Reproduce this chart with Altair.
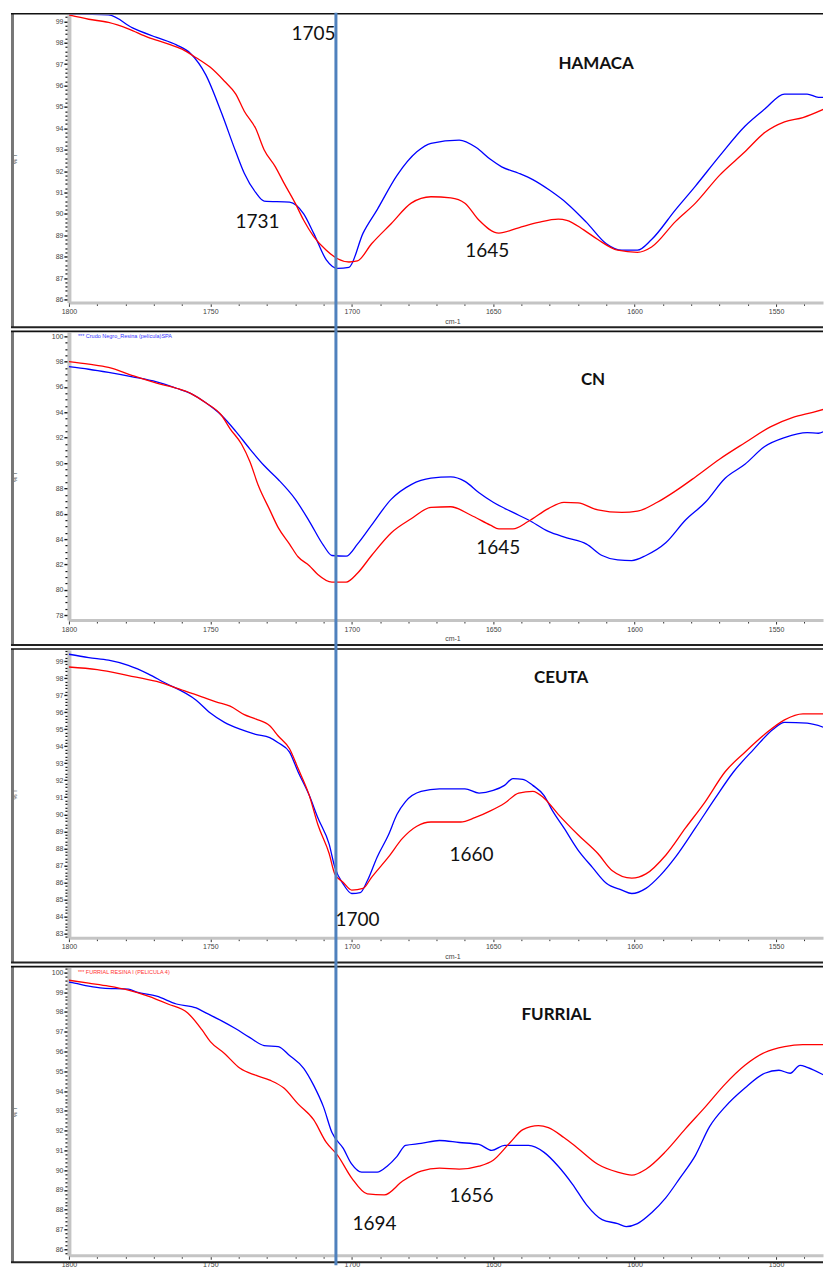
import altair as alt
import pandas as pd

# ---------------- data (wavenumber cm-1, %T) ----------------
# Panel 1 : HAMACA
p1_blue_wn = [1800, 1786, 1777.5, 1769, 1762, 1757, 1751.6, 1746, 1741, 1738, 1734, 1731, 1722, 1717,
              1713.5, 1709, 1705, 1701, 1696, 1691, 1684, 1677, 1672, 1662, 1656, 1651, 1647, 1641,
              1636, 1630, 1624, 1617, 1610, 1604.5, 1599, 1594, 1585.5, 1578.5, 1570, 1561, 1554,
              1547, 1539, 1535, 1533]
p1_blue_t = [99.35, 99.3, 98.7, 98.25, 97.9, 97.5, 96.5, 94.7, 92.9, 91.9, 91.0, 90.6, 90.55, 90.0,
             89.1, 87.85, 87.45, 87.5, 89.1, 90.2, 91.8, 92.9, 93.3, 93.45, 93.1, 92.55, 92.2, 91.9,
             91.6, 91.1, 90.5, 89.6, 88.6, 88.3, 88.3, 88.8, 90.2, 91.3, 92.7, 94.1, 94.9,
             95.6, 95.6, 95.45, 95.45]
p1_red_wn = [1800, 1793, 1786, 1779, 1772, 1765, 1760, 1755, 1750, 1745, 1741, 1738, 1734, 1731,
             1727, 1724, 1720, 1717, 1713.5, 1709, 1705, 1701, 1698, 1693, 1686, 1679, 1672, 1665,
             1660, 1655, 1648, 1641, 1634, 1627, 1624, 1618, 1613, 1606, 1599, 1594, 1585.5, 1578.5,
             1570, 1561, 1554, 1547, 1540.5, 1533]
p1_red_t = [99.3, 99.1, 98.95, 98.65, 98.25, 97.95, 97.7, 97.3, 96.85, 96.2, 95.6, 94.8, 94.0, 93.0,
            92.2, 91.45, 90.5, 89.7, 88.95, 88.3, 87.9, 87.75, 87.8, 88.6, 89.55, 90.5, 90.8, 90.75,
            90.5, 89.7, 89.1, 89.35, 89.6, 89.75, 89.7, 89.25, 88.8, 88.3, 88.2, 88.45, 89.65, 90.5,
            91.8, 92.9, 93.8, 94.3, 94.5, 94.9]

# Panel 2 : CN
p2_blue_wn = [1800, 1793, 1786, 1777.5, 1769, 1762, 1757, 1751.6, 1746, 1741, 1736, 1731, 1726, 1720,
              1715, 1710, 1707, 1702, 1698, 1693, 1686, 1679, 1672, 1665, 1660, 1655, 1650, 1643,
              1637.5, 1630.5, 1624, 1617, 1611.5, 1606, 1601, 1596, 1589, 1582, 1575, 1568, 1561,
              1554, 1547, 1539, 1535, 1533]
p2_blue_t = [97.6, 97.4, 97.15, 96.8, 96.4, 95.9, 95.5, 94.75, 93.75, 92.5, 91.1, 89.8, 88.7, 87.15,
             85.4, 83.5, 82.7, 82.65, 83.6, 85.1, 87.15, 88.3, 88.8, 88.9, 88.55, 87.65, 86.9, 86.1,
             85.5, 84.6, 84.1, 83.6, 82.7, 82.35, 82.3, 82.7, 83.7, 85.5, 86.9, 88.8, 89.9,
             91.3, 92.0, 92.4, 92.35, 92.5]
p2_red_wn = [1800, 1793, 1786, 1777.5, 1769, 1762, 1757, 1751.6, 1746, 1743, 1739, 1736, 1733, 1729,
             1726, 1722, 1719, 1715, 1712, 1707, 1702, 1698, 1693, 1686, 1679, 1672, 1665, 1658,
             1651, 1648, 1643, 1637.5, 1630.5, 1625, 1620, 1613, 1604.5, 1599, 1592, 1585.5, 1578.5,
             1570, 1561, 1552, 1544, 1537, 1533]
p2_red_t = [98.0, 97.8, 97.55, 96.9, 96.3, 95.9, 95.5, 94.75, 93.75, 92.7, 91.5, 90.1, 88.2, 86.3,
            84.9, 83.6, 82.6, 81.9, 81.2, 80.6, 80.6, 81.3, 82.7, 84.5, 85.6, 86.5, 86.55, 85.9,
            85.1, 84.8, 84.8, 85.4, 86.4, 86.9, 86.85, 86.3, 86.1, 86.2, 86.9, 87.8, 88.9,
            90.3, 91.6, 92.85, 93.6, 94.0, 94.25]

# Panel 3 : CEUTA
p3_blue_wn = [1800, 1793, 1786, 1779, 1772, 1767, 1755, 1750, 1745, 1739.5, 1734, 1729, 1726, 1722,
              1719, 1715, 1712, 1708, 1706, 1703, 1700, 1697, 1694.5, 1691, 1687, 1684, 1681,
              1675.5, 1669, 1660, 1655, 1650, 1646, 1643, 1639.5, 1636, 1632, 1629, 1625, 1620,
              1615, 1610, 1604.5, 1601, 1596, 1591, 1585.5, 1578.5, 1571.5, 1565, 1558, 1551,
              1547, 1539, 1533]
p3_blue_t = [99.4, 99.2, 99.05, 98.75, 98.25, 97.8, 96.7, 95.95, 95.4, 95.0, 94.7, 94.5, 94.2, 93.65,
             92.5, 91.1, 89.8, 88.25, 86.9, 85.9, 85.35, 85.4, 86.1, 87.5, 88.8, 90.0, 90.75,
             91.35, 91.5, 91.5, 91.25, 91.4, 91.7, 92.1, 92.05, 91.7, 91.1, 90.2, 89.2, 87.9,
             86.9, 85.95, 85.55, 85.35, 85.65, 86.4, 87.5, 89.2, 90.95, 92.5, 93.8, 95.0,
             95.4, 95.35, 95.1]
p3_red_wn = [1800, 1790, 1779, 1769, 1760, 1753, 1748, 1743, 1738, 1734, 1729, 1726, 1722, 1719,
             1715, 1712, 1708, 1706, 1703, 1700, 1696, 1693, 1687, 1682, 1677, 1672, 1665, 1661.5,
             1656.5, 1651, 1646, 1641, 1636, 1632, 1627, 1620, 1613, 1608, 1601, 1596, 1589, 1582,
             1575, 1568, 1561, 1554, 1547, 1540.5, 1533]
p3_red_t = [98.65, 98.5, 98.15, 97.8, 97.3, 96.9, 96.6, 96.35, 95.85, 95.6, 95.2, 94.6, 93.85, 92.7,
            91.1, 89.4, 87.7, 86.5, 86.0, 85.55, 85.65, 86.3, 87.5, 88.6, 89.3, 89.55, 89.55, 89.55,
            89.8, 90.2, 90.65, 91.25, 91.35, 90.95, 90.0, 88.8, 87.7, 86.7, 86.25, 86.5, 87.6, 89.2,
            90.75, 92.5, 93.65, 94.7, 95.55, 95.9, 95.9]

# Panel 4 : FURRIAL
p4_blue_wn = [1800, 1798, 1793, 1788, 1779, 1776, 1769, 1762, 1755, 1751.6, 1746, 1741, 1736, 1731,
              1726, 1722, 1717, 1713.5, 1710, 1707, 1703, 1700, 1696.5, 1691, 1687.5, 1684, 1681,
              1675.5, 1669, 1662, 1655, 1650.5, 1646, 1637.5, 1632, 1627, 1622, 1617, 1611.5, 1606,
              1603, 1599, 1594, 1589, 1584, 1578.5, 1573.5, 1568, 1561, 1554, 1549, 1545, 1541.5,
              1539, 1533]
p4_blue_t = [99.5, 99.45, 99.3, 99.2, 99.15, 99.0, 98.8, 98.4, 98.2, 97.95, 97.55, 97.15, 96.7, 96.3,
             96.25, 95.8, 95.15, 94.3, 93.2, 91.9, 91.1, 90.3, 89.9, 89.9, 90.2, 90.7, 91.25,
             91.35, 91.5, 91.4, 91.3, 91.0, 91.25, 91.25, 90.9, 90.2, 89.3, 88.25, 87.5, 87.3,
             87.15, 87.3, 87.85, 88.6, 89.6, 90.75, 92.2, 93.2, 94.15, 94.9, 95.05, 94.9, 95.3,
             95.2, 94.8]
p4_red_wn = [1800, 1793, 1786, 1779, 1772, 1765, 1758, 1753, 1750, 1745, 1739.5, 1734, 1729, 1724,
             1719, 1713.5, 1709, 1705, 1700, 1694.5, 1688.5, 1682, 1675.5, 1669, 1662, 1655, 1650,
             1644, 1639.5, 1634, 1630.5, 1625, 1620, 1613, 1606, 1601, 1596, 1589, 1582, 1575,
             1568, 1561, 1554, 1547, 1540.5, 1533]
p4_red_t = [99.6, 99.45, 99.3, 99.1, 98.8, 98.4, 97.95, 97.1, 96.5, 95.9, 95.15, 94.8, 94.55, 94.15,
            93.35, 92.55, 91.4, 90.75, 89.6, 88.8, 88.75, 89.45, 89.95, 90.1, 90.05, 90.2, 90.5,
            91.4, 92.05, 92.25, 92.15, 91.65, 91.1, 90.3, 89.9, 89.75, 90.05, 90.95, 92.1, 93.2,
            94.35, 95.3, 95.95, 96.25, 96.35, 96.35]

# panel annotations: label, wavenumber, %T, bold?
p1_notes = [("1705", 1713.5, 98.4, False), ("HAMACA", 1613.6, 97.0, True),
            ("1731", 1733.3, 89.6, False), ("1645", 1652.1, 88.24, False)]
p2_notes = [("CN", 1614.7, 96.54, True), ("1645", 1648.2, 83.27, False)]
p3_notes = [("CEUTA", 1626.0, 98.02, True), ("1660", 1657.7, 87.6, False),
            ("1700", 1698.0, 83.8, False)]
p4_notes = [("FURRIAL", 1627.7, 97.86, True), ("1656", 1657.7, 88.67, False),
            ("1694", 1692.0, 87.26, False)]

# y-axis ranges, label step and minor tick step for each panel
p1_y = (85.86, 99.31, 1, 0.2)
p2_y = (77.61, 100.31, 2, 0.5)
p3_y = (82.76, 99.65, 1, 0.2)
p4_y = (85.7, 100.24, 1, 0.2)

p2_caption = "*** Crudo Negro_Resina (película)SPA"
p4_caption = "*** FURRIAL RESINA I (PELICULA 4)"

VLINE_WN = 1705.6
X_DOMAIN = [1533.4, 1800]
X_LABELS = [1800, 1750, 1700, 1650, 1600, 1550]
X_MINOR = [v for v in range(1540, 1801, 10) if v % 50 != 0]

W = 755
H = 288
FRAME_BOTTOM = 313
RULE_BOTTOM = 316


def ticks(lo, hi, step):
    out = []
    k = int(lo / step) - 1
    while k * step <= hi + 1e-9:
        v = round(k * step, 3)
        if lo - 1e-9 <= v <= hi + 1e-9:
            out.append(v)
        k += 1
    return out


def panel(blue_wn, blue_t, red_wn, red_t, notes, ycfg, caption=None, cap_color=None,
          last=False):
    lo, hi, major, minor = ycfg
    df = pd.concat([
        pd.DataFrame({"wn": blue_wn, "t": blue_t, "s": "b"}),
        pd.DataFrame({"wn": red_wn, "t": red_t, "s": "r"}),
    ])
    xs = alt.Scale(domain=X_DOMAIN, reverse=True, nice=False, zero=False)
    ys = alt.Scale(domain=[lo, hi], nice=False, zero=False)
    ymajor = [v for v in ticks(lo, hi, major)]
    yminor = [v for v in ticks(lo, hi, minor) if v not in ymajor]

    xaxis = alt.Axis(values=X_LABELS, format="d", orient="bottom", grid=False,
                     domainColor="#c4c4c4", domainWidth=3, tickColor="#333", tickSize=4,
                     tickWidth=1, labelFont="Liberation Sans", labelFontSize=7,
                     labelColor="#444", labelPadding=1, labelFlush=False,
                     title=None if last else "cm-1", titleFont="Liberation Sans",
                     titleFontSize=7, titleFontWeight="normal", titleColor="#444",
                     titleX=384, titlePadding=3)
    yaxis = alt.Axis(values=ymajor, format="d", orient="left", grid=False,
                     domainColor="#c4c4c4", domainWidth=4, tickColor="#111", tickSize=5,
                     tickWidth=1.4, labelFont="Liberation Sans", labelFontSize=7,
                     labelColor="#444", labelPadding=1, labelFlush=False, title="% T",
                     titleFont="Liberation Sans", titleFontSize=6, titleFontWeight="normal",
                     titleColor="#444", titleX=-51, titleY=H / 2, titleAngle=-90)
    xminor = alt.Axis(values=X_MINOR, orient="bottom", grid=False, domain=False, labels=False,
                      tickColor="#333", tickSize=3, tickWidth=1, title=None)
    yminor_ax = alt.Axis(values=yminor, orient="left", grid=False, domain=False, labels=False,
                         tickColor="#111", tickSize=4, tickWidth=1.2, title=None)

    color = alt.Color("s:N", scale=alt.Scale(domain=["b", "r"], range=["#0000ff", "#ff0000"]),
                      legend=None)
    lines = alt.Chart(df).mark_line(strokeWidth=1.3, clip=True, interpolate="monotone").encode(
        x=alt.X("wn:Q", scale=xs, axis=xaxis),
        y=alt.Y("t:Q", scale=ys, axis=yaxis),
        color=color,
        detail="s:N",
    )
    minor_layer = alt.Chart(df).mark_line(opacity=0, clip=True).encode(
        x=alt.X("wn:Q", scale=xs, axis=xminor),
        y=alt.Y("t:Q", scale=ys, axis=yminor_ax),
        detail="s:N",
    )

    one = pd.DataFrame({"a": [0]})
    fb = FRAME_BOTTOM - (18 if last else 0)
    rb = RULE_BOTTOM - (18 if last else 0)
    top = alt.Chart(one).mark_rule(color="#111", strokeWidth=1.6).encode(
        x=alt.value(-58), x2=alt.value(W), y=alt.value(-1))
    bottom = alt.Chart(one).mark_rule(color="#222", strokeWidth=2).encode(
        x=alt.value(-58), x2=alt.value(W), y=alt.value(fb))
    leftbar = alt.Chart(one).mark_rect(color="#777").encode(
        x=alt.value(-58), x2=alt.value(-55), y=alt.value(-1), y2=alt.value(fb))
    vline = alt.Chart(one).mark_rule(color="#4f81bd", strokeWidth=3).encode(
        x=alt.XDatum(VLINE_WN, axis=None), y=alt.value(-2), y2=alt.value(rb))

    ndf = pd.DataFrame(notes, columns=["label", "wn", "t", "bold"])
    nums = alt.Chart(ndf[~ndf["bold"]]).mark_text(font="Lato", fontSize=19, color="#111",
                                                   baseline="middle", align="center").encode(
        x=alt.X("wn:Q", axis=None), y=alt.Y("t:Q", axis=None), text="label:N")
    names = alt.Chart(ndf[ndf["bold"]]).mark_text(font="Lato", fontSize=17, fontWeight="bold",
                                                   color="#111", baseline="middle",
                                                   align="center").encode(
        x=alt.X("wn:Q", axis=None), y=alt.Y("t:Q", axis=None), text="label:N")

    layers = [leftbar, top, bottom, minor_layer, lines, vline, nums, names]
    if caption:
        cap = alt.Chart(one).mark_text(font="Liberation Sans", fontSize=5.5, color=cap_color,
                                       align="left", baseline="middle").encode(
            x=alt.value(9), y=alt.value(4), text=alt.value(caption))
        layers.append(cap)
    return alt.layer(*layers).resolve_axis(x="independent", y="independent").properties(
        width=W, height=H)


c1 = panel(p1_blue_wn, p1_blue_t, p1_red_wn, p1_red_t, p1_notes, p1_y)
c2 = panel(p2_blue_wn, p2_blue_t, p2_red_wn, p2_red_t, p2_notes, p2_y, p2_caption, "#3333ff")
c3 = panel(p3_blue_wn, p3_blue_t, p3_red_wn, p3_red_t, p3_notes, p3_y)
c4 = panel(p4_blue_wn, p4_blue_t, p4_red_wn, p4_red_t, p4_notes, p4_y, p4_caption, "#ff3333",
           last=True)

chart = alt.vconcat(c1, c2, c3, c4, spacing=-7).properties(
    padding={"left": 10, "top": 10, "right": 0, "bottom": 0},
    background="white",
).configure_view(stroke=None)

chart.save("out.html", embed_options={"renderer": "svg", "actions": False})
